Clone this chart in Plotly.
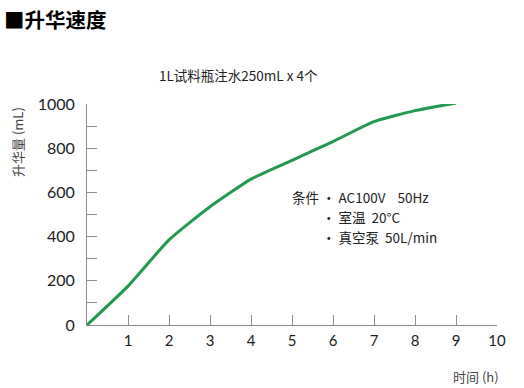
import plotly.graph_objects as go

# Data
hours = [0, 1, 2, 3, 4, 5, 6, 7, 8, 9]
volume_ml = [0, 176, 385, 535, 660, 745, 830, 920, 970, 1005]

x_tick_vals = [1, 2, 3, 4, 5, 6, 7, 8, 9, 10]
x_tick_text = ["1", "2", "3", "4", "5", "6", "7", "8", "9", "10"]
y_tick_vals = [0, 100, 200, 300, 400, 500, 600, 700, 800, 900, 1000]
y_tick_text = ["0", "", "200", "", "400", "", "600", "", "800", "", "1000"]

W, H = 524, 388
L, R, T, B = 87, 27, 104, 63
PW, PH = W - L - R, H - T - B

def px(x):
    return (x - L) / PW

def py(y):
    return (H - B - y) / PH

CJK = "Noto Sans CJK SC"
NUM = "Lato, Noto Sans CJK SC"

fig = go.Figure()
fig.add_trace(go.Scatter(
    x=hours, y=volume_ml, mode="lines",
    line=dict(color="#22994f", width=3, shape="spline", smoothing=0.5),
    hoverinfo="skip", showlegend=False,
))

fig.update_layout(
    width=W, height=H,
    margin=dict(l=L, r=R, t=T, b=B, pad=0),
    paper_bgcolor="white", plot_bgcolor="white",
    showlegend=False,
    font=dict(family=NUM, color="#222222"),
)

fig.update_xaxes(
    range=[0, 10], tickvals=x_tick_vals, ticktext=x_tick_text,
    showgrid=False, zeroline=False, showline=True, linecolor="#8c8c8c", linewidth=1,
    ticks="inside", ticklen=10, tickcolor="#8c8c8c", tickwidth=1,
    tickfont=dict(size=15, family=NUM, color="#222222"),
    ticklabelstandoff=2,
)
fig.update_yaxes(
    range=[0, 1000], tickvals=y_tick_vals, ticktext=y_tick_text,
    showgrid=False, zeroline=False, showline=True, linecolor="#8c8c8c", linewidth=1,
    ticks="inside", ticklen=10, tickcolor="#8c8c8c", tickwidth=1,
    tickfont=dict(size=16, family=NUM, color="#222222"),
    ticklabelstandoff=8,
)

NB = "\u00a0"
annos = [
    dict(text="■升华速度", x=px(2), y=py(19), xanchor="left", yanchor="middle",
         font=dict(size=20.5, family=CJK, color="#000000", weight="bold")),
    dict(text="1L试料瓶注水250mL x 4个", x=px(157), y=py(75), xanchor="left", yanchor="middle",
         font=dict(size=13.5, family=CJK, color="#222222")),
    dict(text="条件 · AC100V" + NB * 4 + "50Hz", x=px(290), y=py(197), xanchor="left", yanchor="middle",
         font=dict(size=13.5, family=CJK, color="#222222")),
    dict(text="· 室温" + NB * 2 + "20°C", x=px(320), y=py(217), xanchor="left", yanchor="middle",
         font=dict(size=13.5, family=CJK, color="#222222")),
    dict(text="· 真空泵" + NB * 2 + "50L/min", x=px(320), y=py(237), xanchor="left", yanchor="middle",
         font=dict(size=13.5, family=CJK, color="#222222")),
    dict(text="升华量 (mL)", x=px(17), y=py(142), xanchor="center", yanchor="middle",
         textangle=-90, font=dict(size=13, family=CJK, color="#444444")),
    dict(text="时间 (h)", x=px(476), y=py(376), xanchor="center", yanchor="middle",
         font=dict(size=13, family=CJK, color="#444444")),
]
for a in annos:
    fig.add_annotation(xref="paper", yref="paper", showarrow=False, **a)

fig.write_html("out.html", config={"displayModeBar": False},
               post_script="document.body.style.margin='0';")
